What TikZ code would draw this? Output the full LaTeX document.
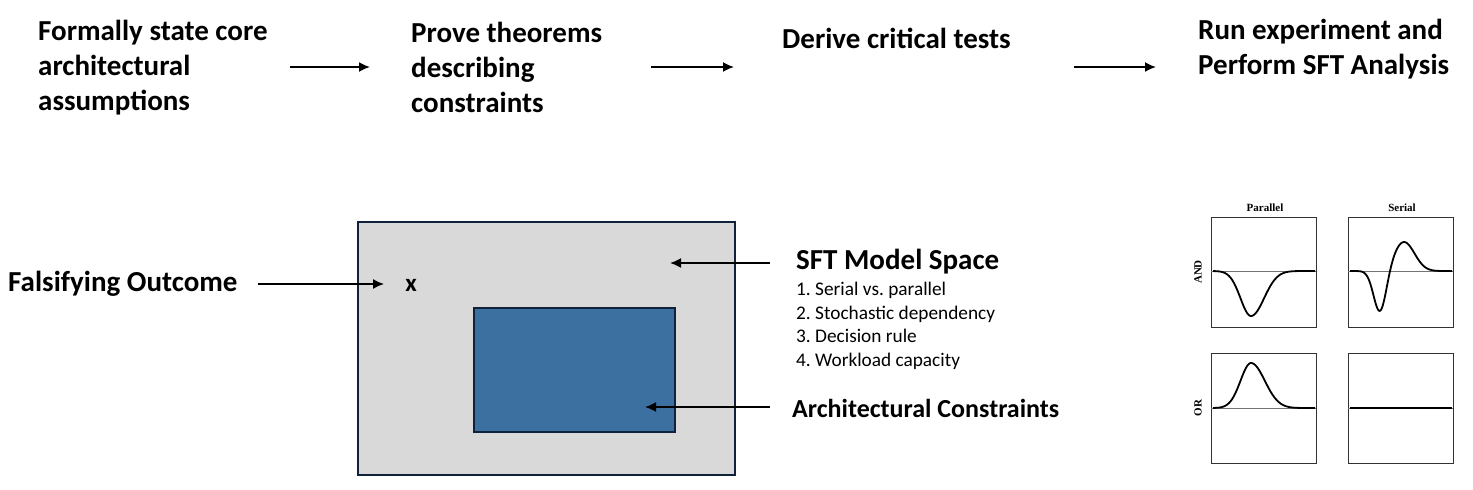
\documentclass[tikz,border=0pt]{standalone}
\usepackage{fontspec}
\setmainfont{Carlito}
\newfontfamily\plotfont{Liberation Serif}
\usetikzlibrary{arrows.meta}
\definecolor{spacegray}{HTML}{D9D9D9}
\definecolor{constrblue}{HTML}{3B70A0}
\definecolor{edgenavy}{HTML}{10223A}
\frenchspacing
\tikzset{
  steptext/.style={font=\bfseries\fontsize{29}{35}\selectfont, align=left, anchor=west, inner sep=0pt},
  listtext/.style={font=\fontsize{19.3}{23.5}\selectfont, align=left, anchor=north west, inner sep=0pt},
  flow/.style={-{Latex[length=11pt,width=10pt]}, line width=1.7pt},
  panel/.style={draw=black!80, line width=0.8pt},
  axisline/.style={draw=black!55, line width=0.6pt},
  curve/.style={line width=1.8pt, line join=round},
  plotlabel/.style={font=\plotfont\bfseries\fontsize{11}{13}\selectfont, inner sep=0pt}
}
\begin{document}
\begin{tikzpicture}[x=1pt,y=-1pt]
\useasboundingbox (0,0) rectangle (1473,490);

% top row of steps
\node[steptext] (assume) at (38,68) {Formally state core\\architectural\\assumptions};
\node[steptext] (prove) at (411,67) {Prove theorems\\describing\\constraints};
\node[steptext] (derive) at (782,38) {Derive critical tests};
\node[steptext] (run) at (1198,49) {Run experiment and\\Perform SFT Analysis};
\draw[flow] ([xshift=22pt]assume.east |- prove.east) -- ([xshift=-41pt]prove.west);
\draw[flow] ([xshift=49pt]prove.east) -- ([xshift=-48pt]derive.west |- prove.west);
\draw[flow] ([xshift=63pt]derive.east |- prove.east) -- ([xshift=-42pt]run.west |- prove.west);

% model space
\path[coordinate] (358,222) coordinate(S1)
                  (735,475) coordinate(S2)
                  (474,308) coordinate(C1)
                  (675,432) coordinate(C2)
                  (670,263) coordinate(spacept)
                  (645,407) coordinate(constrpt);
\draw[fill=spacegray, draw=edgenavy, line width=1.6pt] (S1) rectangle (S2);
\draw[fill=constrblue, draw=edgenavy, line width=1.2pt] (C1) rectangle (C2);
\node[font=\bfseries\fontsize{25}{28}\selectfont, inner sep=0pt] (xmark) at (411,285) {x};

\node[steptext] (falsify) at (8,284) {Falsifying Outcome};
\draw[flow] ([xshift=20pt]falsify.east) -- ([xshift=-21pt]xmark.west |- falsify.east);

\node[steptext, font=\bfseries\fontsize{29}{34}\selectfont] (sft) at (796,262) {SFT Model Space};
\node[listtext] (props) at (796,282) {1. Serial vs. parallel\\2. Stochastic dependency\\3. Decision rule\\4. Workload capacity};
\node[steptext, font=\bfseries\fontsize{26}{30}\selectfont] (arch) at (792,408) {Architectural Constraints};
\draw[flow] ([xshift=-26pt]sft.west |- spacept) -- (spacept);
\draw[flow] ([xshift=-22pt]arch.west |- constrpt) -- (constrpt);

% SFT interaction contrasts
\node[plotlabel] (par) at (1265,208) {Parallel};
\node[plotlabel] (ser) at (1402,208) {Serial};
\node[plotlabel, rotate=90] (andlab) at (1198,272) {AND};
\node[plotlabel, rotate=90] (orlab) at (1198,408) {OR};
\foreach \px in {1211,1348}
  \foreach \py in {217,353}
    \draw[panel] (\px,\py) rectangle ++(105,110);
\draw[axisline] (1211,271) -- (1316,271);
\draw[axisline] (1348,271) -- (1453,271);
\draw[axisline] (1211,408) -- (1316,408);
\draw[axisline] (1348,408) -- (1453,408);
\draw[curve] plot[domain=1213:1315, samples=90, smooth]
  (\x, {271+45*exp(-((\x-1251)^2)/(2*((\x<1251) ? 110 : 170)))});
\draw[curve] plot[domain=1350:1452, samples=110, smooth]
  (\x, {271+42*exp(-((\x-1380)^2)/(2*40))-29*exp(-((\x-1404)^2)/(2*110))});
\draw[curve] plot[domain=1213:1315, samples=90, smooth]
  (\x, {408-45*exp(-((\x-1251)^2)/(2*((\x<1251) ? 110 : 190)))});
\draw[curve] (1350,408) -- (1452,408);
\end{tikzpicture}
\end{document}
